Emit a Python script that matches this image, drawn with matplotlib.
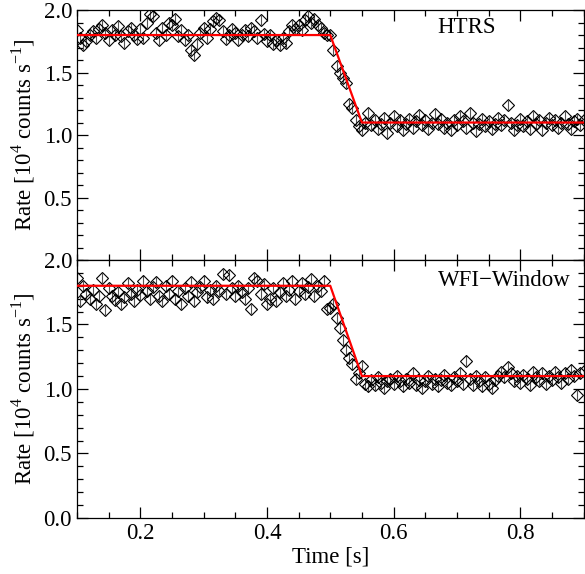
import numpy as np
import matplotlib
matplotlib.use("Agg")
import matplotlib.pyplot as plt
from matplotlib.ticker import MultipleLocator, FormatStrFormatter

plt.rcParams['font.family'] = ['Liberation Serif', 'DejaVu Serif']
plt.rcParams['mathtext.fontset'] = 'custom'
plt.rcParams['mathtext.rm'] = 'Liberation Serif'

# Light-curve time bins (s)
t_start, t_step, n_bins = 0.1, 0.005, 161
time = t_start + t_step * np.arange(n_bins)

# HTRS count rate [10^4 counts/s]
rate_htrs = [
    1.84, 1.78, 1.72, 1.75, 1.80, 1.83, 1.78, 1.85, 1.88, 1.82,
    1.76, 1.84, 1.80, 1.87, 1.79, 1.74, 1.83, 1.86, 1.80, 1.77,
    1.85, 1.78, 1.90, 1.97, 1.95, 1.82, 1.76, 1.86, 1.80, 1.90,
    1.88, 1.93, 1.79, 1.84, 1.76, 1.80, 1.68, 1.64, 1.73, 1.82,
    1.86, 1.78, 1.85, 1.91, 1.94, 1.92, 1.83, 1.77, 1.80, 1.85,
    1.82, 1.76, 1.80, 1.84, 1.79, 1.86, 1.83, 1.78, 1.92, 1.81,
    1.75, 1.80, 1.73, 1.76, 1.72, 1.78, 1.74, 1.83, 1.88, 1.85,
    1.88, 1.84, 1.92, 1.95, 1.90, 1.93, 1.88, 1.86, 1.82, 1.80,
    1.80, 1.68, 1.55, 1.50, 1.46, 1.42, 1.25, 1.22, 1.12, 1.07,
    1.04, 1.10, 1.18, 1.08, 1.12, 1.05, 1.09, 1.14, 1.02, 1.10,
    1.15, 1.07, 1.12, 1.04, 1.09, 1.13, 1.06, 1.11, 1.16, 1.08,
    1.12, 1.05, 1.10, 1.17, 1.09, 1.13, 1.06, 1.10, 1.04, 1.12,
    1.08, 1.15, 1.11, 1.06, 1.18, 1.10, 1.03, 1.09, 1.13, 1.07,
    1.11, 1.05, 1.09, 1.14, 1.08, 1.12, 1.24, 1.10, 1.04, 1.08,
    1.13, 1.07, 1.11, 1.05, 1.15, 1.09, 1.12, 1.04, 1.10, 1.14,
    1.08, 1.12, 1.06, 1.10, 1.15, 1.09, 1.05, 1.11, 1.13, 1.08,
    1.12,
]

# WFI-Window count rate [10^4 counts/s]
rate_wfi = [
    1.86, 1.68, 1.80, 1.74, 1.70, 1.77, 1.66, 1.72, 1.86, 1.61,
    1.78, 1.72, 1.69, 1.75, 1.66, 1.71, 1.82, 1.74, 1.68, 1.77,
    1.73, 1.84, 1.76, 1.70, 1.79, 1.83, 1.72, 1.68, 1.80, 1.74,
    1.84, 1.70, 1.76, 1.66, 1.78, 1.72, 1.83, 1.68, 1.75, 1.79,
    1.84, 1.71, 1.77, 1.70, 1.80, 1.76, 1.89, 1.74, 1.88, 1.78,
    1.72, 1.80, 1.75, 1.70, 1.78, 1.62, 1.86, 1.84, 1.74, 1.81,
    1.66, 1.70, 1.78, 1.68, 1.75, 1.82, 1.72, 1.77, 1.84, 1.70,
    1.76, 1.82, 1.74, 1.79, 1.85, 1.72, 1.80, 1.76, 1.84, 1.62,
    1.63, 1.66, 1.55, 1.47, 1.38, 1.30, 1.24, 1.19, 1.08, 1.12,
    1.18, 1.04, 1.02, 1.07, 1.03, 1.09, 1.05, 1.01, 1.06, 1.08,
    1.04, 1.10, 1.06, 1.02, 1.08, 1.05, 1.12, 1.03, 1.07, 1.01,
    1.06, 1.10, 1.04, 1.08, 1.02, 1.07, 1.11, 1.05, 1.03, 1.09,
    1.06, 1.12, 1.04, 1.22, 1.08, 1.03, 1.10, 1.06, 1.02, 1.09,
    1.04, 1.01, 1.07, 1.10, 1.13, 1.09, 1.17, 1.12, 1.06, 1.10,
    1.05, 1.11, 1.08, 1.03, 1.13, 1.09, 1.06, 1.12, 1.04, 1.10,
    1.07, 1.13, 1.09, 1.05, 1.12, 1.08, 1.15, 1.10, 0.95, 1.12,
    1.14,
]

rate_err = 0.04

# Piecewise-linear burst model (ingress from high to low level)
model_t = [0.1, 0.5, 0.55, 0.9]
model_rate = [1.8, 1.8, 1.1, 1.1]

panels = [("HTRS", rate_htrs), ("WFI\u2212Window", rate_wfi)]

fig = plt.figure(figsize=(5.85, 5.74), dpi=100)
ax_top = fig.add_axes([0.1316, 0.5470, 0.8659, 0.4355])
ax_bot = fig.add_axes([0.1316, 0.0976, 0.8659, 0.4495], sharex=ax_top)
axes = [ax_top, ax_bot]

fs = 16.5
for ax, (name, rate) in zip(axes, panels):
    ax.errorbar(time, rate, yerr=rate_err, fmt='none', ecolor='#555555',
                elinewidth=0.8, capsize=0, zorder=2)
    ax.plot(time, rate, linestyle='none', marker='D', markersize=6.4,
            markerfacecolor='none', markeredgecolor='black',
            markeredgewidth=0.8, zorder=3)
    ax.plot(model_t, model_rate, color='red', linewidth=1.6, zorder=4)

    ax.set_xlim(0.1, 0.9)
    ax.set_ylim(0.0, 2.0)
    ax.xaxis.set_major_locator(MultipleLocator(0.2))
    ax.xaxis.set_minor_locator(MultipleLocator(0.05))
    ax.yaxis.set_major_locator(MultipleLocator(0.5))
    ax.yaxis.set_minor_locator(MultipleLocator(0.1))
    ax.yaxis.set_major_formatter(FormatStrFormatter('%.1f'))
    ax.tick_params(which='both', direction='in', top=True, right=True,
                   labelsize=fs, width=0.9)
    ax.tick_params(which='major', length=8)
    ax.tick_params(which='minor', length=4)
    for sp in ax.spines.values():
        sp.set_linewidth(0.9)
    ax.set_ylabel(r'Rate [10$^4$ counts s$^{-1}$]', fontsize=fs, labelpad=5)

ax_top.text(0.77, 0.93, "HTRS", transform=ax_top.transAxes,
            ha='center', va='center', fontsize=fs)
ax_bot.text(0.843, 0.922, "WFI\u2212Window", transform=ax_bot.transAxes,
            ha='center', va='center', fontsize=fs)

ax_top.tick_params(labelbottom=False)
ax_top.set_yticks([0.5, 1.0, 1.5, 2.0])
ax_top.yaxis.set_minor_locator(MultipleLocator(0.1))
ax_top.set_ylim(0.0, 2.0)
ax_bot.set_xlabel('Time [s]', fontsize=fs, labelpad=2)

fig.savefig('out.png', dpi=100)
